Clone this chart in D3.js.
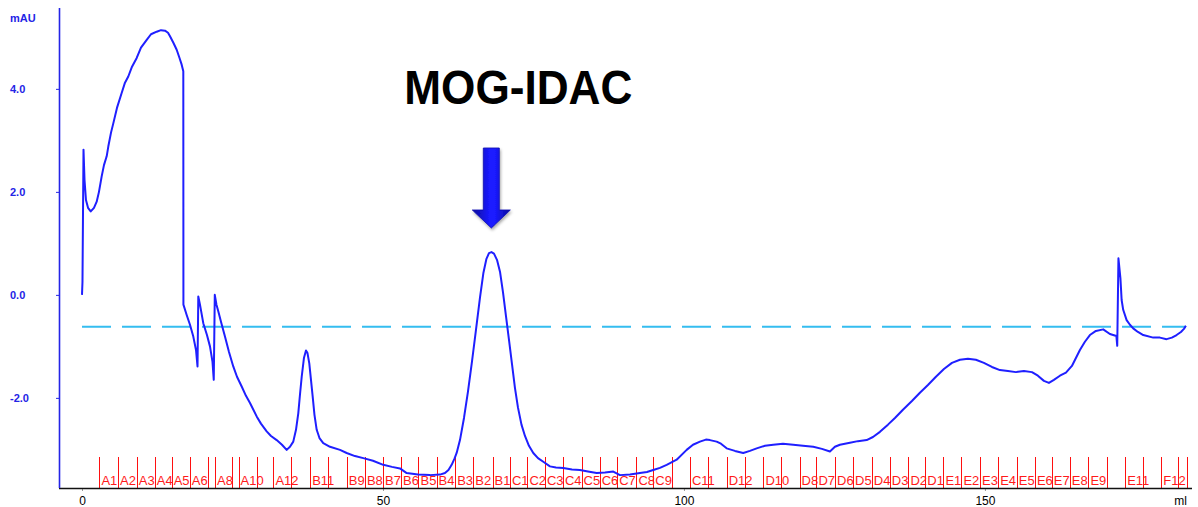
<!DOCTYPE html>
<html>
<head>
<meta charset="utf-8">
<script src="https://cdn.jsdelivr.net/npm/d3@7"></script>
<style>
  html, body { margin: 0; padding: 0; background: #ffffff; }
  svg { display: block; }
</style>
</head>
<body>
<svg id="chart" width="1198" height="507"></svg>
<script>
// UV trace (elution volume in ml, absorbance in mAU)
const traceMl = [
  0.00, 0.08, 0.25, 0.42, 0.66, 1.00, 1.45, 1.99, 2.44, 2.82, 3.27, 3.65, 4.10, 4.37, 4.82, 5.20,
  5.81, 6.59, 7.14, 7.69, 8.31, 9.09, 9.80, 10.75, 11.46, 12.41, 13.12, 13.79, 14.29, 14.62, 15.20,
  15.73, 16.20, 16.56, 16.83, 16.85, 17.39, 17.94, 18.49, 18.94, 19.19, 19.32, 19.60, 20.15, 20.76,
  21.26, 21.68, 21.89, 22.06, 22.34, 22.64, 23.09, 23.75, 24.42, 25.13, 25.75, 26.53, 27.24, 27.91,
  29.02, 29.73, 30.68, 31.40, 32.34, 33.22, 34.00, 34.55, 35.10, 35.55, 35.93, 36.21, 36.50, 36.88,
  37.21, 37.46, 37.76, 38.04, 38.32, 38.62, 38.99, 39.45, 40.08, 41.20, 42.86, 43.97, 45.35, 46.73,
  48.34, 50.05, 51.50, 52.82, 53.94, 55.81, 57.81, 59.47, 60.30, 60.88, 61.41, 61.88, 62.24, 62.79,
  63.46, 64.12, 64.78, 65.45, 66.11, 66.69, 67.19, 67.61, 68.02, 68.44, 68.94, 69.44, 69.93, 70.43,
  70.93, 71.43, 71.93, 72.43, 73.01, 73.59, 74.25, 74.97, 75.75, 76.63, 77.74, 78.74, 79.95, 81.40,
  82.72, 84.05, 85.50, 86.88, 88.26, 89.37, 91.03, 92.69, 93.85, 94.90, 96.01, 97.13, 98.79, 100.45,
  101.50, 102.66, 103.65, 104.32, 105.43, 106.15, 107.09, 108.47, 109.85, 110.96, 112.08, 113.46,
  114.83, 116.45, 118.16, 119.77, 121.48, 122.92, 124.25, 125.08, 125.91, 127.57, 128.90, 130.35,
  131.40, 132.56, 133.89, 135.05, 136.38, 137.87, 139.20, 140.53, 141.86, 143.19, 144.52, 145.85,
  147.18, 148.50, 149.83, 151.16, 152.49, 153.82, 155.15, 156.48, 157.81, 158.80, 159.80, 160.63,
  161.46, 162.46, 163.46, 164.45, 165.78, 166.61, 167.44, 168.44, 169.65, 170.76, 171.84, 171.98,
  172.18, 172.51, 172.71, 172.97, 173.54, 174.09, 174.63, 175.42, 176.30, 177.96, 179.07, 180.18,
  181.06, 181.84, 182.56, 183.06, 183.39
];
const traceMau = [
  0.00, 0.25, 2.82, 2.23, 1.84, 1.69, 1.62, 1.69, 1.81, 2.00, 2.30, 2.52, 2.69, 2.88, 3.15, 3.33,
  3.63, 3.92, 4.12, 4.24, 4.43, 4.60, 4.80, 4.95, 5.06, 5.11, 5.14, 5.13, 5.09, 5.02, 4.89,
  4.76, 4.60, 4.47, 4.34, -0.19, -0.39, -0.58, -0.81, -1.07, -1.39, -0.03, -0.19, -0.55, -0.78,
  -1.00, -1.30, -1.65, 0.00, -0.19, -0.32, -0.52, -0.81, -1.11, -1.39, -1.59, -1.78, -1.96, -2.10,
  -2.36, -2.50, -2.65, -2.74, -2.82, -2.91, -3.01, -2.95, -2.85, -2.62, -2.30, -1.94, -1.59, -1.22,
  -1.08, -1.13, -1.33, -1.65, -1.97, -2.33, -2.62, -2.78, -2.88, -2.95, -3.01, -3.07, -3.13, -3.17,
  -3.22, -3.30, -3.34, -3.37, -3.46, -3.49, -3.50, -3.49, -3.46, -3.40, -3.30, -3.18, -3.07, -2.82,
  -2.39, -1.88, -1.30, -0.68, -0.06, 0.43, 0.70, 0.81, 0.83, 0.80, 0.68, 0.45, 0.06, -0.41,
  -0.87, -1.34, -1.81, -2.19, -2.52, -2.74, -2.93, -3.07, -3.17, -3.24, -3.33, -3.35, -3.36, -3.39,
  -3.40, -3.43, -3.46, -3.45, -3.43, -3.50, -3.49, -3.46, -3.44, -3.40, -3.36, -3.30, -3.20, -3.01,
  -2.91, -2.85, -2.81, -2.82, -2.85, -2.89, -2.98, -3.03, -3.07, -3.03, -2.98, -2.93,
  -2.91, -2.89, -2.91, -2.93, -2.95, -2.99, -3.04, -2.95, -2.91, -2.87, -2.84, -2.82,
  -2.76, -2.66, -2.52, -2.39, -2.23, -2.06, -1.90, -1.75, -1.59, -1.44, -1.32, -1.26,
  -1.24, -1.26, -1.32, -1.40, -1.46, -1.48, -1.50, -1.48, -1.50, -1.57, -1.67, -1.71,
  -1.65, -1.57, -1.51, -1.38, -1.07, -0.91, -0.78, -0.70, -0.67, -0.76, -0.80, -0.99,
  0.71, 0.32, -0.10, -0.29, -0.49, -0.58, -0.65, -0.72, -0.78, -0.83, -0.83, -0.86,
  -0.83, -0.78, -0.72, -0.66, -0.60
];

// Fraction collector marks (ml) and the well names printed between them
const fractionBoundaries = [
  2.9, 6.0, 9.1, 12.1, 14.9, 17.9, 21.0, 22.1, 25.0, 26.0, 29.0, 31.8, 34.8, 37.9, 40.9, 44.0,
  47.0, 50.0, 53.0, 55.9, 58.9, 62.0, 65.0, 68.2, 71.1, 74.0, 76.9, 79.9, 83.0, 86.0, 88.9, 92.1,
  94.9, 98.0, 101.0, 104.0, 107.1, 110.1, 113.2, 116.2, 119.2, 122.0, 125.1, 128.1, 131.2, 134.2,
  137.3, 140.1, 143.1, 146.1, 149.2, 152.2, 155.3, 158.3, 161.1, 164.1, 167.2, 170.2, 173.3, 176.3,
  179.3, 182.1, 183.5
];
const fractionLabels = [
  "A1", "A2", "A3", "A4", "A5", "A6", "", "A8", "", "A10", "", "A12", "", "B11", "", "B9",
  "B8", "B7", "B6", "B5", "B4", "B3", "B2", "B1", "C1", "C2", "C3", "C4", "C5", "C6", "C7", "C8",
  "C9", "", "C11", "", "D12", "", "D10", "", "D8", "D7", "D6", "D5", "D4", "D3",
  "D2", "D1", "E1", "E2", "E3", "E4", "E5", "E6", "E7", "E8", "E9", "", "E11", "",
  "F12", ""
];

// Horizontal reference level (mAU)
const referenceLevel = [-0.62];

// Axis ticks
const xTicks = [0, 50, 100, 150];
const yTicks = [-2, 0, 2, 4];
const xUnit = "ml";
const yUnit = "mAU";
const peakTitle = "MOG-IDAC";
const peakAt = [68.0];

const svg = d3.select("#chart");
const plotLeft = 59, plotRight = 1192, plotTop = 8, plotBottom = 488;

const x = d3.scaleLinear().domain([-3.82, 184.4]).range([plotLeft, plotRight]);
const y = d3.scaleLinear().domain([-3.75, 5.57]).range([plotBottom, plotTop]);

const traceBlue = "#1f1fff";
const axisBlue = "#2424e6";

// Fraction marks
const frac = svg.append("g").attr("class", "fractions");
frac.selectAll("line")
  .data(fractionBoundaries)
  .join("line")
  .attr("x1", d => Math.round(x(d)) + 0.5)
  .attr("x2", d => Math.round(x(d)) + 0.5)
  .attr("y1", 457)
  .attr("y2", plotBottom)
  .attr("stroke", "#ff1010")
  .attr("stroke-width", 1);

frac.selectAll("text")
  .data(fractionLabels.map((t, i) => ({ t, a: fractionBoundaries[i] })).filter(d => d.t))
  .join("text")
  .attr("x", d => x(d.a) + 2)
  .attr("y", 485)
  .attr("fill", "#ff1a1a")
  .attr("font-family", "Liberation Sans, Arial, sans-serif")
  .attr("font-size", 13)
  .text(d => d.t);

// Reference level
svg.append("g").selectAll("line")
  .data(referenceLevel)
  .join("line")
  .attr("x1", x(0))
  .attr("x2", x(183.4))
  .attr("y1", d => y(d))
  .attr("y2", d => y(d))
  .attr("stroke", "#35bdf0")
  .attr("stroke-width", 2)
  .attr("stroke-dasharray", "29 11");

// UV trace
const trace = traceMl.map((v, i) => [v, traceMau[i]]);
svg.append("path")
  .datum(trace)
  .attr("fill", "none")
  .attr("stroke", traceBlue)
  .attr("stroke-width", 2)
  .attr("stroke-linejoin", "round")
  .attr("d", d3.line().x(d => x(d[0])).y(d => y(d[1])));

// X axis
const xAxis = svg.append("g")
  .attr("transform", `translate(0,${plotBottom})`)
  .call(d3.axisBottom(x).tickValues(xTicks).tickSize(3).tickFormat(d3.format("d")));
xAxis.select(".domain").remove();
xAxis.selectAll(".tick line").attr("stroke", "#999");
xAxis.selectAll(".tick text")
  .attr("y", 8)
  .attr("fill", "#000")
  .attr("font-family", "Liberation Sans, Arial, sans-serif")
  .attr("font-size", 12);
svg.append("line")
  .attr("x1", plotLeft).attr("x2", plotRight)
  .attr("y1", plotBottom + 0.5).attr("y2", plotBottom + 0.5)
  .attr("stroke", "#111").attr("stroke-width", 1.5);
svg.append("text")
  .attr("x", x(182.5))
  .attr("y", 505)
  .attr("text-anchor", "middle")
  .attr("font-family", "Liberation Sans, Arial, sans-serif")
  .attr("font-size", 12)
  .attr("fill", "#000")
  .text(xUnit);

// Y axis (plain hyphen for negative values)
const yFormat = d => d3.format(".1f")(d).replace("\u2212", "-");
const yAxis = svg.append("g")
  .attr("transform", `translate(${plotLeft},0)`)
  .call(d3.axisLeft(y).tickValues(yTicks).tickSize(3).tickFormat(yFormat));
yAxis.select(".domain").remove();
yAxis.selectAll(".tick line").attr("stroke", axisBlue);
yAxis.selectAll(".tick text")
  .attr("x", 10 - plotLeft)
  .attr("text-anchor", "start")
  .attr("fill", axisBlue)
  .attr("font-family", "Liberation Sans, Arial, sans-serif")
  .attr("font-weight", "bold")
  .attr("font-size", 11);
svg.append("line")
  .attr("x1", plotLeft + 0.5).attr("x2", plotLeft + 0.5)
  .attr("y1", plotTop).attr("y2", plotBottom)
  .attr("stroke", axisBlue).attr("stroke-width", 1.6);
svg.append("text")
  .attr("x", 10)
  .attr("y", 22)
  .attr("fill", axisBlue)
  .attr("font-family", "Liberation Sans, Arial, sans-serif")
  .attr("font-weight", "bold")
  .attr("font-size", 11)
  .text(yUnit);

// Peak annotation: title and arrow
const defs = svg.append("defs");
const grad = defs.append("linearGradient").attr("id", "arrowFill")
  .attr("x1", "0").attr("x2", "1").attr("y1", "0").attr("y2", "0");
grad.append("stop").attr("offset", "0").attr("stop-color", "#0a0a9a");
grad.append("stop").attr("offset", "0.45").attr("stop-color", "#1a1aff");
grad.append("stop").attr("offset", "0.6").attr("stop-color", "#1a1aff");
grad.append("stop").attr("offset", "1").attr("stop-color", "#0a0a9a");
const shadow = defs.append("filter").attr("id", "arrowShadow")
  .attr("x", "-50%").attr("y", "-20%").attr("width", "200%").attr("height", "150%");
shadow.append("feDropShadow").attr("dx", 1).attr("dy", 2).attr("stdDeviation", 1.5)
  .attr("flood-color", "#000").attr("flood-opacity", 0.35);

const ax = x(peakAt[0]);
const arrowTop = 148, shaftBottom = 210, tip = 228;
svg.append("path")
  .attr("d", `M${ax - 8},${arrowTop} L${ax + 8},${arrowTop} L${ax + 8},${shaftBottom}
              L${ax + 19},${shaftBottom} L${ax},${tip} L${ax - 19},${shaftBottom}
              L${ax - 8},${shaftBottom} Z`)
  .attr("fill", "url(#arrowFill)")
  .attr("stroke", "#0c0cb0")
  .attr("stroke-width", 0.8)
  .attr("filter", "url(#arrowShadow)");

svg.append("text")
  .attr("x", ax + 27)
  .attr("y", 104)
  .attr("text-anchor", "middle")
  .attr("font-family", "Liberation Sans, Arial, sans-serif")
  .attr("font-weight", "bold")
  .attr("font-size", 48)
  .attr("textLength", 228)
  .attr("lengthAdjust", "spacingAndGlyphs")
  .attr("fill", "#000")
  .text(peakTitle);
</script>
</body>
</html>
